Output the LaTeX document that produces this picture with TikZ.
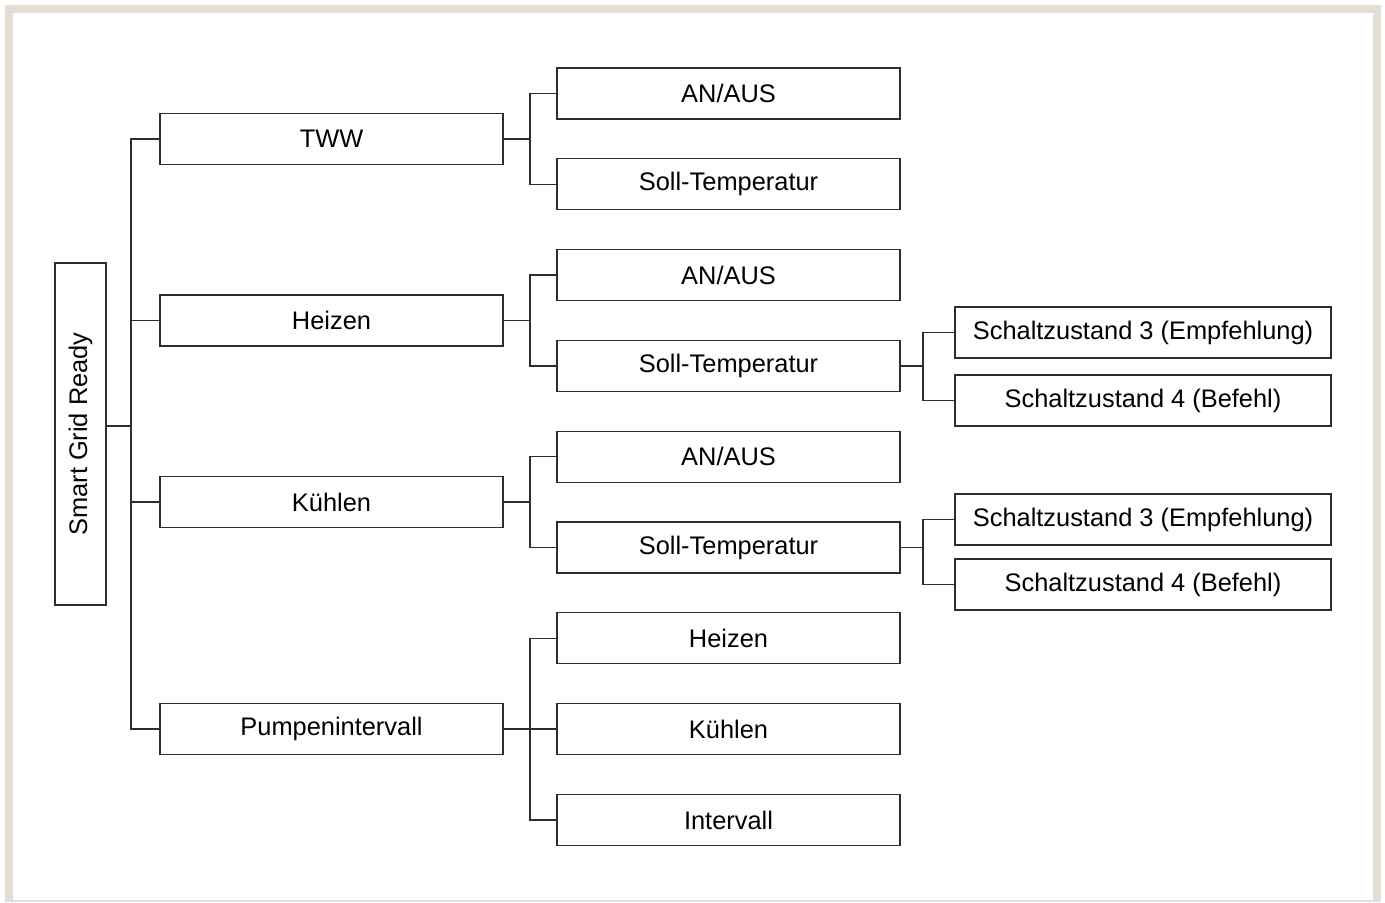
\documentclass[tikz,border=0pt]{standalone}
\usepackage{fontspec}
\setmainfont{Liberation Sans}
\usetikzlibrary{positioning}
\usetikzlibrary{calc}
\definecolor{framebg}{RGB}{227,221,212}
\definecolor{linec}{RGB}{45,45,45}

\begin{document}
\begin{tikzpicture}[x=0.5pt,y=-0.5pt,
  box/.style={draw=linec,line width=0.65pt,align=center,inner sep=0pt,outer sep=0pt,minimum height=25.5pt,font=\fontsize{12.7}{15}\selectfont},
  top/.style={box,minimum width=171.5pt},
  sub/.style={box,minimum width=171.5pt},
  leaf/.style={box,minimum width=188pt},
  rootbox/.style={box,rotate=90,minimum width=171pt},
  fork/.style={draw=linec,line width=0.65pt}]

  % Frame
  \useasboundingbox (0,0) rectangle (1385,902);
  \fill[framebg] (5,5) rectangle (1381,902);
  \fill[white] (13,13) rectangle (1373,900);

  % Second level -- one column, stacked
  \node[sub] at (728.5,93.5) (tww1) {AN/AUS};
  \node[sub, below=19.9pt of tww1] (tww2) {Soll-Temperatur};
  \node[sub, below=19.9pt of tww2] (hz1) {AN/AUS};
  \node[sub, below=19.9pt of hz1] (hz2) {Soll-Temperatur};
  \node[sub, below=19.9pt of hz2] (kl1) {AN/AUS};
  \node[sub, below=19.9pt of kl1] (kl2) {Soll-Temperatur};
  \node[sub, below=19.9pt of kl2] (pi1) {Heizen};
  \node[sub, below=19.9pt of pi1] (pi2) {K\"uhlen};
  \node[sub, below=19.9pt of pi2] (pi3) {Intervall};

  % First level, centred on its children
  \node[top, anchor=east] (tww) at ($(tww1.west)!.5!(tww2.west)+(-54,0)$) {TWW};
  \node[top, anchor=east] (hz) at ($(hz1.west)!.5!(hz2.west)+(-54,0)$) {Heizen};
  \node[top, anchor=east] (kl) at ($(kl1.west)!.5!(kl2.west)+(-54,0)$) {K\"uhlen};
  \node[top, anchor=east] (pi) at ($(pi2.west)+(-54,0)$) {Pumpenintervall};

  % Root
  \node[rootbox] (sgr) at (80.5,434) {Smart Grid Ready};

  % Third level
  \node[leaf] (hz3) at (1143,332.5) {Schaltzustand 3 (Empfehlung)};
  \node[leaf] (hz4) at (1143,400.5) {Schaltzustand 4 (Befehl)};
  \node[leaf] (kl3) at (1143,519.5) {Schaltzustand 3 (Empfehlung)};
  \node[leaf] (kl4) at (1143,584.5) {Schaltzustand 4 (Befehl)};

  \foreach \c in {tww,hz,kl,pi}
    \draw[fork] ([yshift=4pt]sgr.south) -- ++(25,0) |- (\c.west);
  \foreach \c in {tww1,tww2}
    \draw[fork] (tww.east) -- ++(27,0) |- (\c.west);
  \foreach \c in {hz1,hz2}
    \draw[fork] (hz.east) -- ++(27,0) |- (\c.west);
  \foreach \c in {kl1,kl2}
    \draw[fork] (kl.east) -- ++(27,0) |- (\c.west);
  \foreach \c in {pi1,pi2,pi3}
    \draw[fork] (pi.east) -- ++(27,0) |- (\c.west);
  \foreach \c in {hz3,hz4}
    \draw[fork] (hz2.east) -- ++(23,0) |- (\c.west);
  \foreach \c in {kl3,kl4}
    \draw[fork] (kl2.east) -- ++(23,0) |- (\c.west);
\end{tikzpicture}
\end{document}
